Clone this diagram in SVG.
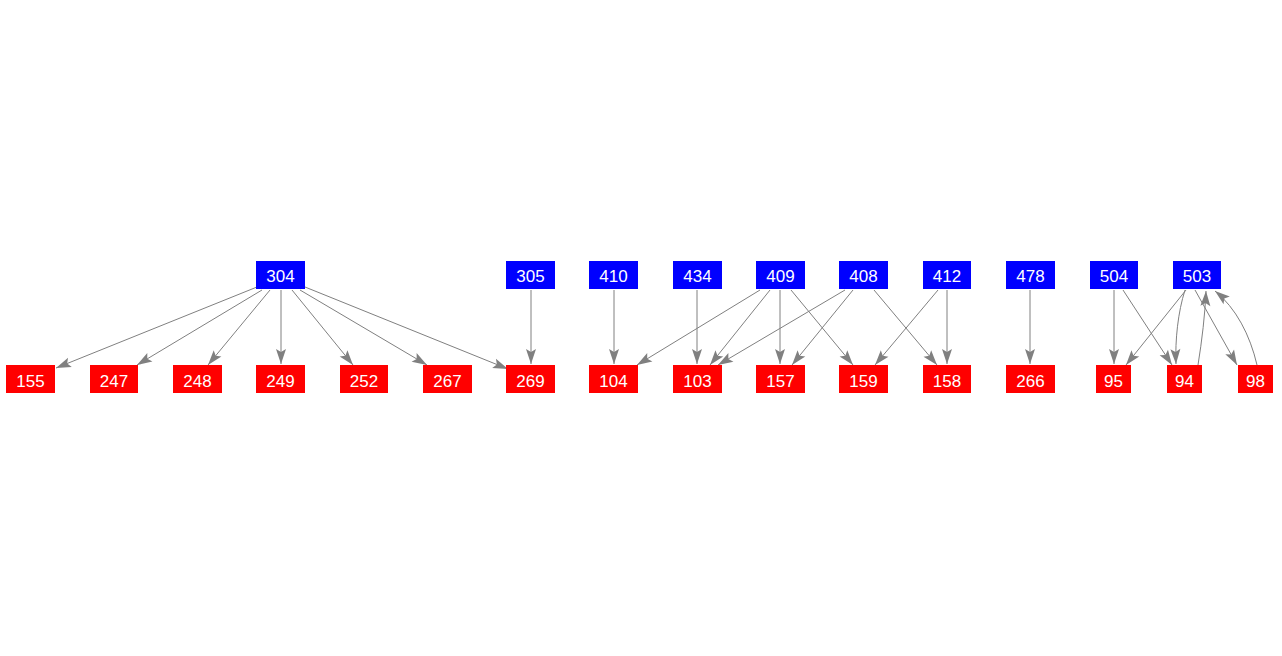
<svg xmlns="http://www.w3.org/2000/svg" width="1282" height="656" viewBox="0 0 1282 656">
<style>
.b{fill:#0000ff}
.r{fill:#ff0000}
text{fill:#ffffff;font-family:"Liberation Sans",Arial,sans-serif;font-size:17px;text-anchor:middle}
.e path{fill:none;stroke:#808080;stroke-width:1;marker-end:url(#ah)}
</style>
<defs>
<marker id="ah" markerUnits="userSpaceOnUse" markerWidth="20" markerHeight="14" viewBox="-17 -7 18 14" refX="0" refY="0" orient="auto">
<path d="M0,0 L-15,-5 L-12,0 L-15,5 Z" fill="#808080"/>
</marker>
</defs>
<rect width="1282" height="656" fill="#ffffff"/>
<g class="e" id="edges">
<path d="M257,287 L56,368"/>
<path d="M262,290 L137,365"/>
<path d="M270,290 L208,365"/>
<path d="M281,290 L281,364"/>
<path d="M292,290 L353,365"/>
<path d="M300,290 L427,365"/>
<path d="M305,287 L508,369"/>
<path d="M531,290 L531,364"/>
<path d="M614,290 L614,364"/>
<path d="M697,290 L697,364"/>
<path d="M760,290 L637,365"/>
<path d="M770,290 L710,365"/>
<path d="M780,290 L780,364"/>
<path d="M791,290 L853,365"/>
<path d="M845,290 L718,365"/>
<path d="M853,290 L792,365"/>
<path d="M874,290 L937,365"/>
<path d="M938,290 L875,365"/>
<path d="M947,290 L947,364"/>
<path d="M1030,290 L1030,364"/>
<path d="M1114,290 L1114,364"/>
<path d="M1123,290 L1172,365"/>
<path d="M1186,290 L1126,365"/>
<path d="M1185,290 C1178,312 1175,340 1176,364"/>
<path d="M1198,365 C1202,340 1205,315 1206,291"/>
<path d="M1195,290 L1237,365"/>
<path d="M1257,365 C1250,335 1236,308 1215,291"/>
</g>
<g id="n304"><rect class="b" x="256" y="261" width="49" height="28"/><text x="280.5" y="282">304</text></g>
<g id="n305"><rect class="b" x="506" y="261" width="49" height="28"/><text x="530.5" y="282">305</text></g>
<g id="n410"><rect class="b" x="589" y="261" width="49" height="28"/><text x="613.5" y="282">410</text></g>
<g id="n434"><rect class="b" x="673" y="261" width="49" height="28"/><text x="697.5" y="282">434</text></g>
<g id="n409"><rect class="b" x="756" y="261" width="49" height="28"/><text x="780.5" y="282">409</text></g>
<g id="n408"><rect class="b" x="839" y="261" width="49" height="28"/><text x="863.5" y="282">408</text></g>
<g id="n412"><rect class="b" x="923" y="261" width="48" height="28"/><text x="947" y="282">412</text></g>
<g id="n478"><rect class="b" x="1006" y="261" width="49" height="28"/><text x="1030.5" y="282">478</text></g>
<g id="n504"><rect class="b" x="1090" y="261" width="48" height="28"/><text x="1114" y="282">504</text></g>
<g id="n503"><rect class="b" x="1173" y="261" width="48" height="28"/><text x="1197" y="282">503</text></g>
<g id="n155"><rect class="r" x="6" y="365" width="49" height="28"/><text x="30.5" y="387">155</text></g>
<g id="n247"><rect class="r" x="90" y="365" width="48" height="28"/><text x="114" y="387">247</text></g>
<g id="n248"><rect class="r" x="173" y="365" width="49" height="28"/><text x="197.5" y="387">248</text></g>
<g id="n249"><rect class="r" x="256" y="365" width="49" height="28"/><text x="280.5" y="387">249</text></g>
<g id="n252"><rect class="r" x="340" y="365" width="48" height="28"/><text x="364" y="387">252</text></g>
<g id="n267"><rect class="r" x="423" y="365" width="49" height="28"/><text x="447.5" y="387">267</text></g>
<g id="n269"><rect class="r" x="506" y="365" width="49" height="28"/><text x="530.5" y="387">269</text></g>
<g id="n104"><rect class="r" x="589" y="365" width="49" height="28"/><text x="613.5" y="387">104</text></g>
<g id="n103"><rect class="r" x="673" y="365" width="49" height="28"/><text x="697.5" y="387">103</text></g>
<g id="n157"><rect class="r" x="756" y="365" width="49" height="28"/><text x="780.5" y="387">157</text></g>
<g id="n159"><rect class="r" x="839" y="365" width="49" height="28"/><text x="863.5" y="387">159</text></g>
<g id="n158"><rect class="r" x="923" y="365" width="48" height="28"/><text x="947" y="387">158</text></g>
<g id="n266"><rect class="r" x="1006" y="365" width="49" height="28"/><text x="1030.5" y="387">266</text></g>
<g id="n95"><rect class="r" x="1096" y="365" width="35" height="28"/><text x="1113.5" y="387">95</text></g>
<g id="n94"><rect class="r" x="1167" y="365" width="35" height="28"/><text x="1184.5" y="387">94</text></g>
<g id="n98"><rect class="r" x="1238" y="365" width="35" height="28"/><text x="1255.5" y="387">98</text></g>
</svg>
